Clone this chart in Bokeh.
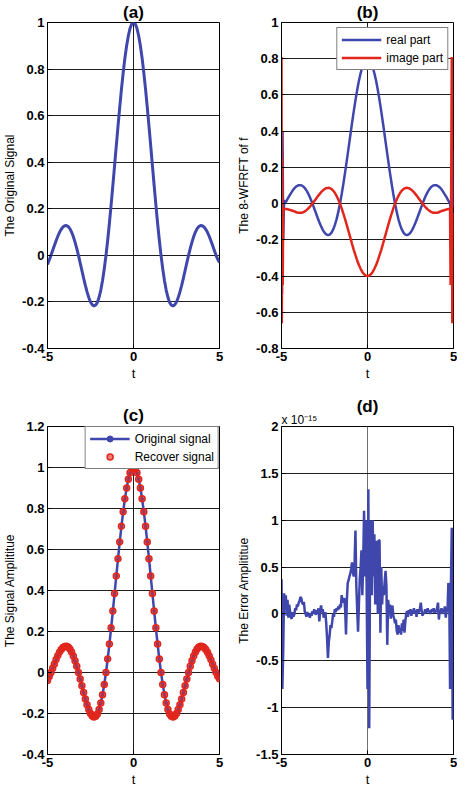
import numpy as np
from bokeh.plotting import figure
from bokeh.models import (Range1d, FixedTicker, CustomJSTickFormatter, Title,
                          Legend, LegendItem)
from bokeh.layouts import column, row
from bokeh.embed import file_html
from bokeh.resources import INLINE

# ---------------- data ----------------
# panel (a)/(c): original signal sampled at t = -5 ... 5, step 0.1
signal = [-0.039, -0.020, 0.000, 0.021, 0.042, 0.063, 0.082, 0.099, 0.112, 0.122,
          0.127, 0.128, 0.124, 0.115, 0.100, 0.081, 0.057, 0.030, 0.000, -0.032,
          -0.065, -0.098, -0.129, -0.157, -0.181, -0.200, -0.212, -0.217, -0.214, -0.202,
          -0.180, -0.149, -0.108, -0.058, 0.000, 0.066, 0.139, 0.218, 0.300, 0.385,
          0.471, 0.555, 0.637, 0.714, 0.784, 0.847, 0.900, 0.943, 0.975, 0.994,
          1.000,
          0.994, 0.975, 0.943, 0.900, 0.847, 0.784, 0.714, 0.637, 0.555, 0.471,
          0.385, 0.300, 0.218, 0.139, 0.066, 0.000, -0.058, -0.108, -0.149, -0.180,
          -0.202, -0.214, -0.217, -0.212, -0.200, -0.181, -0.157, -0.129, -0.098, -0.065,
          -0.032, 0.000, 0.030, 0.057, 0.081, 0.100, 0.115, 0.124, 0.128, 0.127,
          0.122, 0.112, 0.099, 0.082, 0.063, 0.042, 0.021, 0.000, -0.018, -0.030]
signal_t = np.linspace(-5, 5, len(signal))

# panel (b): 8-WFRFT, core samples t = -4.8 ... 4.8 step 0.1
real_core = [0.000, 0.017, 0.034, 0.050, 0.065, 0.079, 0.090, 0.097, 0.102, 0.102,
             0.099, 0.092, 0.080, 0.065, 0.046, 0.024, 0.000, -0.026, -0.052, -0.078,
             -0.103, -0.125, -0.145, -0.160, -0.170, -0.174, -0.171, -0.161, -0.144, -0.119,
             -0.087, -0.047, 0.000, 0.053, 0.111, 0.174, 0.240, 0.308, 0.376, 0.444,
             0.509, 0.571, 0.627, 0.678, 0.720, 0.755, 0.780, 0.795, 0.800,
             0.795, 0.780, 0.755, 0.720, 0.678, 0.627, 0.571, 0.509, 0.444, 0.376,
             0.308, 0.240, 0.174, 0.111, 0.053, 0.000, -0.047, -0.087, -0.119, -0.144,
             -0.161, -0.171, -0.174, -0.170, -0.160, -0.145, -0.125, -0.103, -0.078, -0.052,
             -0.026, 0.000, 0.024, 0.046, 0.065, 0.080, 0.092, 0.099, 0.102, 0.102,
             0.097, 0.090, 0.079, 0.065, 0.050, 0.034, 0.017, 0.000]
imag_core = [-0.030, -0.030, -0.032, -0.035, -0.038, -0.041, -0.045, -0.049, -0.051, -0.051,
             -0.050, -0.046, -0.040, -0.032, -0.023, -0.012, 0.000, 0.013, 0.026, 0.039,
             0.051, 0.063, 0.072, 0.080, 0.085, 0.087, 0.086, 0.081, 0.072, 0.060,
             0.043, 0.023, 0.000, -0.026, -0.056, -0.087, -0.120, -0.154, -0.188, -0.222,
             -0.255, -0.285, -0.314, -0.339, -0.360, -0.377, -0.390, -0.397, -0.400,
             -0.397, -0.390, -0.377, -0.360, -0.339, -0.314, -0.285, -0.255, -0.222, -0.188,
             -0.154, -0.120, -0.087, -0.056, -0.026, 0.000, 0.023, 0.043, 0.060, 0.072,
             0.081, 0.086, 0.087, 0.085, 0.080, 0.072, 0.063, 0.051, 0.039, 0.026,
             0.013, 0.000, -0.012, -0.023, -0.032, -0.040, -0.046, -0.050, -0.051, -0.051,
             -0.049, -0.045, -0.041, -0.038, -0.035, -0.032, -0.030, -0.030]
core_t = np.linspace(-4.8, 4.8, len(real_core))

# edge oscillations of panel (b)
real_left_t = [-5.00, -4.97, -4.94, -4.90, -4.85]
real_left_v = [0.07, -0.50, 0.40, -0.20, 0.02]
real_right_t = [4.85, 4.90, 4.94, 4.97]
real_right_v = [-0.05, -0.10, 0.30, -0.02]
imag_left_t = [-5.00, -4.98, -4.96, -4.93, -4.90, -4.85]
imag_left_v = [0.81, -0.66, 0.25, -0.45, -0.03, -0.03]
imag_right_t = [4.83, 4.86, 4.90, 4.93, 4.96]
imag_right_v = [-0.45, -0.02, 0.81, -0.66, -0.05]

# panel (d): reconstruction error (x 1e-15), t = -5 ... 4.95 step 0.05
error = [0.37, -0.80, -0.38, 0.22, 0.05, 0.20, -0.02, 0.15, -0.04, 0.10,
         0.02, -0.04, -0.05, 0.02, -0.03, 0.00, 0.06, 0.04, 0.10, 0.08,
         0.12, 0.14, 0.18, 0.17, 0.12, 0.10, 0.13, 0.03, 0.00, -0.03,
         0.02, -0.02, 0.00, -0.04, 0.01, -0.02, 0.03, 0.00, 0.05, 0.02,
         -0.01, 0.04, 0.01, 0.06, -0.08, 0.03, 0.09, 0.02, 0.05, -0.04,
         -0.01, 0.02, -0.10, -0.26, -0.47, -0.30, -0.22, -0.12, -0.15, -0.08,
         0.00, -0.03, 0.05, 0.02, 0.06, 0.04, 0.08, 0.05, 0.10, 0.07,
         0.20, 0.12, 0.15, 0.17, 0.05, -0.22, 0.15, 0.33, 0.36, 0.40,
         0.43, 0.48, 0.55, 0.45, 0.40, 0.55, 0.89, 0.30, 0.05, -0.19,
         0.10, 0.37, 0.50, 0.68, 0.20, 0.55, 1.10, 0.40, 1.00, 0.30,
         -0.80, 1.33, -1.22, 0.60, 1.00, 0.20, 1.00, 0.40, 0.85, 0.10,
         0.60, 0.78, 0.00, 0.79, 0.78, -0.20, 0.50, 0.10, 0.30, 0.20,
         0.35, 0.46, 0.30, -0.33, 0.15, 0.05, 0.10, -0.05, 0.06, 0.09,
         -0.02, -0.05, -0.10, -0.06, -0.18, -0.22, -0.12, -0.20, -0.15, -0.22,
         -0.10, -0.18, -0.06, -0.20, -0.08, 0.00, 0.03, -0.03, 0.04, 0.00,
         0.05, -0.02, 0.04, 0.02, 0.06, 0.00, 0.04, -0.03, 0.05, 0.01,
         0.03, 0.06, 0.12, 0.03, -0.02, 0.02, 0.00, 0.05, 0.01, 0.03,
         0.06, 0.02, 0.04, 0.00, 0.03, 0.05, 0.02, 0.06, 0.01, 0.04,
         0.02, 0.07, 0.12, -0.06, 0.04, 0.02, 0.06, 0.00, 0.05, 0.03,
         0.08, -0.04, 0.06, 0.02, 0.33, 0.30, -0.80, 0.30, 0.92, -1.13]
error_t = -5 + 0.05 * np.arange(len(error))

x_ticks = [-5, 0, 5]
yticks_a = [-0.4, -0.2, 0, 0.2, 0.4, 0.6, 0.8, 1]
yticks_b = [-0.8, -0.6, -0.4, -0.2, 0, 0.2, 0.4, 0.6, 0.8, 1]
yticks_c = [-0.4, -0.2, 0, 0.2, 0.4, 0.6, 0.8, 1, 1.2]
yticks_d = [-1.5, -1, -0.5, 0, 0.5, 1, 1.5, 2]

# ---------------- styling ----------------
BLUE = "#3f47ad"
RED = "#e2261c"
FONT = "Liberation Sans"
GRID = "#1e1e1e"


def main_title(text, standoff):
    return Title(text=text, align="center", text_font=FONT, text_font_size="17px",
                 text_font_style="bold", text_color="black", standoff=standoff)


def make_fig(width, height, ylo, yhi, yticks, ylabel, bl, br, bt, bb):
    p = figure(width=width, height=height, x_range=Range1d(-5, 5),
               y_range=Range1d(ylo, yhi), output_backend="svg",
               toolbar_location=None, title=None,
               min_border_left=bl, min_border_right=br,
               min_border_top=bt, min_border_bottom=bb)
    p.xaxis.ticker = FixedTicker(ticks=x_ticks)
    p.yaxis.ticker = FixedTicker(ticks=yticks)
    fmt = "return String(Math.round(tick*10)/10);"
    p.xaxis.formatter = CustomJSTickFormatter(code=fmt)
    p.yaxis.formatter = CustomJSTickFormatter(code=fmt)
    for ax in (p.xaxis[0], p.yaxis[0]):
        ax.major_label_text_font = FONT
        ax.major_label_text_font_size = "13px"
        ax.major_label_text_font_style = "bold"
        ax.major_label_text_color = "black"
        ax.axis_label_text_font = FONT
        ax.axis_label_text_font_size = "12px"
        ax.axis_label_text_font_style = "normal"
        ax.axis_label_text_color = "black"
        ax.axis_line_color = "black"
        ax.major_tick_in = 4
        ax.major_tick_out = 0
        ax.major_tick_line_color = "black"
        ax.minor_tick_line_color = None
        ax.major_label_standoff = 3
        ax.axis_label_standoff = 2
    p.xaxis.axis_label = "t"
    p.xaxis.axis_label_text_font_size = "13px"
    p.yaxis.axis_label = ylabel
    p.xgrid.ticker = FixedTicker(ticks=[0])
    p.xgrid.grid_line_color = GRID
    p.ygrid.grid_line_color = GRID
    p.xgrid.grid_line_width = 1
    p.ygrid.grid_line_width = 1
    p.outline_line_color = "black"
    p.outline_line_alpha = 1
    p.outline_line_width = 1
    p.background_fill_color = "white"
    p.border_fill_color = "white"
    return p


# (a)
pa = make_fig(228, 386, -0.4, 1.0, yticks_a, "The Original Signal", 42, 9, 18, 38)
pa.add_layout(main_title("(a)", 1), "above")
pa.line(signal_t, signal, color=BLUE, line_width=3)

# (b)
pb = make_fig(229, 386, -0.8, 1.0, yticks_b, "The 8-WFRFT of f", 53, 4, 18, 38)
pb.add_layout(main_title("(b)", 1), "above")
real_t = list(real_left_t) + list(core_t) + list(real_right_t)
real_v = list(real_left_v) + list(real_core) + list(real_right_v)
imag_t = list(imag_left_t) + list(core_t) + list(imag_right_t)
imag_v = list(imag_left_v) + list(imag_core) + list(imag_right_v)
rb1 = pb.line(real_t, real_v, color=BLUE, line_width=2.5)
rb2 = pb.line(imag_t, imag_v, color=RED, line_width=2.5)
leg_b = Legend(items=[LegendItem(label="real part", renderers=[rb1]),
                      LegendItem(label="image part", renderers=[rb2])],
               location="top_right")
pb.add_layout(leg_b)

# (c)
pc = make_fig(228, 403, -0.4, 1.2, yticks_c, "The Signal Amplititue", 42, 9, 40, 33)
pc.add_layout(main_title("(c)", 4), "above")
rc1 = pc.line(signal_t, signal, color=BLUE, line_width=2.5)
rc1b = pc.scatter(signal_t, signal, marker="circle", size=3, color=BLUE)
rc2 = pc.scatter(signal_t, signal, marker="circle", size=6, line_color=RED,
                 fill_color=RED, fill_alpha=0.6, line_width=1.5)
leg_c = Legend(items=[LegendItem(label="Original signal", renderers=[rc1, rc1b]),
                      LegendItem(label="Recover signal", renderers=[rc2])],
               location="top_right")
pc.add_layout(leg_c)

# (d)
pd_ = make_fig(229, 403, -1.5, 2.0, yticks_d, "The Error Amplititue", 53, 4, 40, 33)
pd_.add_layout(Title(text="x 10\u207b\u00b9\u2075", align="left", text_font=FONT,
                     text_font_size="12px", text_font_style="normal",
                     text_color="black", standoff=0), "above")
pd_.add_layout(main_title("(d)", -10), "above")
pd_.line(error_t, error, color=BLUE, line_width=2.5)
pd_.xgrid.grid_line_color = "#707070"

for lg, margin in ((leg_b, 5), (leg_c, 0)):
    lg.border_line_color = "black"
    lg.border_line_width = 1
    lg.background_fill_color = "white"
    lg.background_fill_alpha = 1
    lg.label_text_font = FONT
    lg.label_text_font_size = "12px"
    lg.label_text_color = "black"
    lg.glyph_width = 40
    lg.glyph_height = 15
    lg.label_height = 15
    lg.label_standoff = 5
    lg.spacing = 3
    lg.padding = 4
    lg.margin = margin

layout = column(row(pa, pb), row(pc, pd_))
open("out.html", "w").write(file_html(layout, INLINE))
